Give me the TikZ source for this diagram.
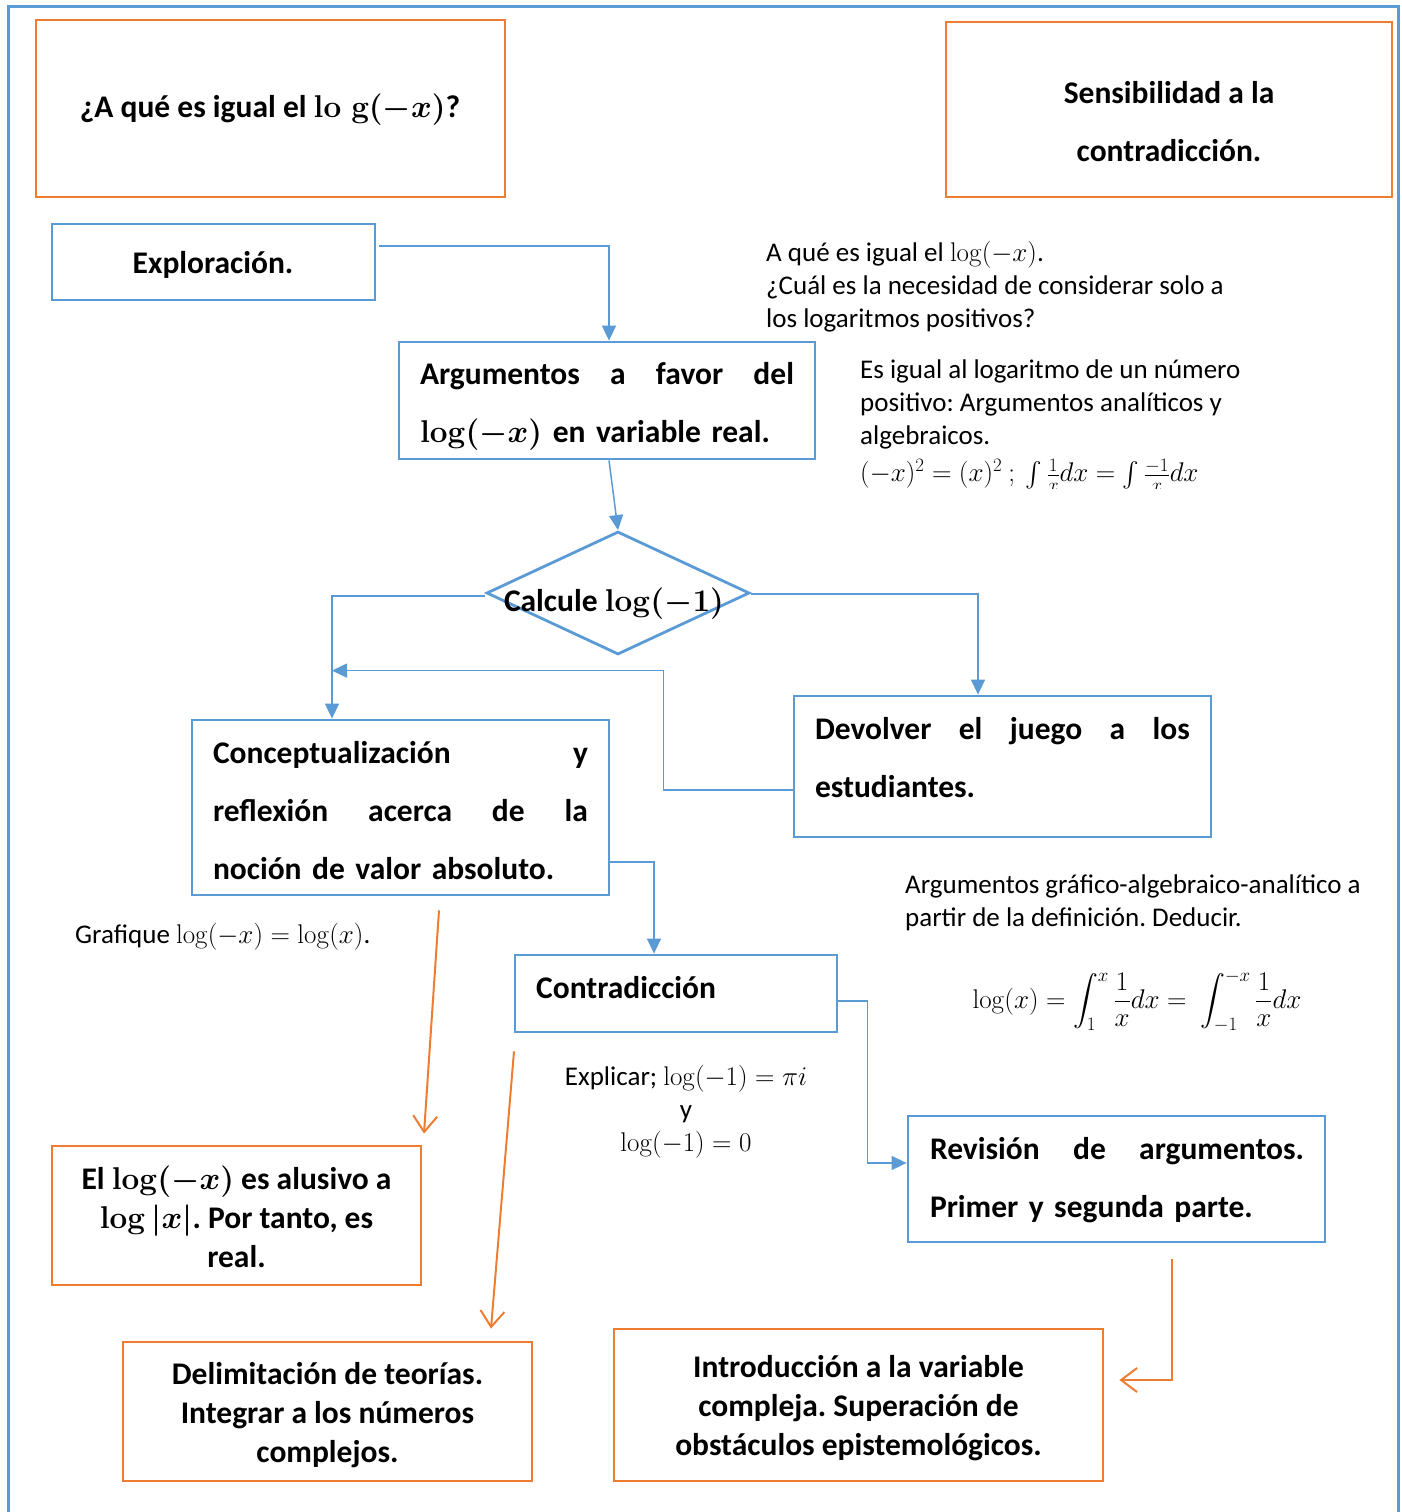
\RequirePackage{fix-cm}
\documentclass[tikz,border=0pt]{standalone}
\usepackage{amsmath}
\usepackage[no-math]{fontspec}
\setmainfont{Carlito}
\frenchspacing
\usetikzlibrary{arrows.meta,shapes.geometric,calc}
\definecolor{bl}{HTML}{5B9BD5}
\definecolor{org}{HTML}{ED7D31}
\tikzset{
  bbox/.style={draw=bl,line width=2.8pt,inner sep=0pt},
  obox/.style={draw=org,line width=2.8pt,inner sep=0pt},
  barr/.style={draw=bl,line width=1.5pt,-{Triangle[length=15pt,width=14pt]}},
  oarr/.style={draw=org,line width=2pt,-{Straight Barb[length=16pt,width=24pt]}},
  btxt/.style={font=\bfseries\fontsize{31.5}{58}\selectfont\boldmath,inner sep=0pt},
  btxs/.style={font=\bfseries\fontsize{31.5}{39}\selectfont\boldmath,inner sep=0pt,align=center},
  rtxt/.style={font=\fontsize{27}{33}\selectfont,inner sep=0pt},
}
\begin{document}
\begin{tikzpicture}[x=1pt,y=-1pt]
\useasboundingbox (0,0) rectangle (1402,1512);
% outer frame
\draw[bl,line width=3pt] (8,1530) -- (8,7) -- (1398,7) -- (1398,1530);

% top orange boxes
\node[obox,minimum width=469pt,minimum height=177pt] (q) at (270.5,108.5) {};
\node[btxt] (qt) at (270,110) {¿A qué es igual el $\mathrm{lo}\;\mathrm{g}(-x)$?};
\node[obox,minimum width=446pt,minimum height=175pt] (sens) at (1169,109.5) {};
\node[btxt,align=center] (senst) at (1169,122) {Sensibilidad a la\\ contradicción.};

% blue boxes
\node[bbox,minimum width=323pt,minimum height=76pt] (expl) at (213.5,262) {};
\node[btxt] (explt) at (213,265) {Exploración.};

\node[bbox,minimum width=416pt,minimum height=117pt] (arg) at (607,400.5) {};
\node[btxt,text width=374pt,align=left] (argt) at (607,406)
  {Argumentos\hfill a\hfill favor\hfill del\\ $\log(-x)$ en variable real.};

\node[bbox,diamond,minimum width=263pt,minimum height=123pt] (calc) at (618,593) {};
\node[btxt] (calct) at (614,604) {Calcule $\log(-1)$};

\node[bbox,minimum width=417pt,minimum height=175pt] (concept) at (400.5,807.5) {};
\node[btxt,text width=375pt,align=left] (conceptt) at (400.5,811)
  {Conceptualización\hfill y\\ reflexión\hfill acerca\hfill de\hfill la\\ noción de valor absoluto.};

\node[bbox,minimum width=417pt,minimum height=141pt] (devol) at (1002.5,766.5) {};
\node[btxt,text width=375pt,align=left] (devolt) at (1002.5,757.5)
  {Devolver\hfill el\hfill juego\hfill a\hfill los\\ estudiantes.};

\node[bbox,minimum width=322pt,minimum height=77pt] (contr) at (676,993.5) {};
\node[btxt,anchor=west] (contrt) at (536,988) {Contradicción};

\node[bbox,minimum width=417pt,minimum height=126pt] (rev) at (1116.5,1179) {};
\node[btxt,text width=374pt,align=left] (revt) at (1117,1180)
  {Revisión\hfill de\hfill argumentos.\\ Primer y segunda parte.};

% bottom orange boxes
\node[obox,minimum width=369pt,minimum height=139pt] (elog) at (236.5,1215.5) {};
\node[btxs] (elogt) at (236.5,1217) {El $\log(-x)$ es alusivo a\\ $\log|x|$. Por tanto, es\\ real.};
\node[obox,minimum width=409pt,minimum height=139pt] (delim) at (327.5,1411.5) {};
\node[btxs] (delimt) at (327.5,1415) {Delimitación de teorías.\\ Integrar a los números\\ complejos.};
\node[obox,minimum width=489pt,minimum height=152pt] (intro) at (858.5,1405) {};
\node[btxs] (introt) at (858.5,1408) {Introducción a la variable\\ compleja. Superación de\\ obstáculos epistemológicos.};

% free texts
\node[rtxt,align=left,anchor=north west] (n1) at (766,241)
  {A qué es igual el $\log(-x)$.\\ ¿Cuál es la necesidad de considerar solo a\\ los logaritmos positivos?};
\node[rtxt,align=left,anchor=north west] (n2) at (860,360)
  {Es igual al logaritmo de un número\\ positivo: Argumentos analíticos y\\ algebraicos.};
\begin{scope}
\clip (850,450) rectangle (1250,488);
\node[rtxt,anchor=west] (n2m) at (860,475)
  {$(-x)^2=(x)^2\ ;\ \int\frac{1}{x}dx=\int\frac{-1}{x}dx$};
\end{scope}
\node[rtxt,anchor=west] (n3) at (75,937) {Grafique $\log(-x)=\log(x)$.};
\node[rtxt,align=left,anchor=north west] (n4) at (905,875)
  {Argumentos gráfico-algebraico-analítico a\\ partir de la definición. Deducir.};
\node[rtxt] (n5) at (1137,1001)
  {$\displaystyle\log(x)=\int_1^x\frac{1}{x}dx=\ \int_{-1}^{-x}\frac{1}{x}dx$};
\node[rtxt,align=center] (n6) at (686,1112)
  {Explicar; $\log(-1)=\pi i$\\ y\\ $\log(-1)=0$};

% blue connectors
\draw[barr] ([shift={(3,-16)}]expl.east) -| ([shift={(2,0)}]arg.north);
\draw[barr] ([shift={(2,0)}]arg.south) -- (calc.north);
\draw[barr] ([shift={(0,3)}]calc.west) -| ([shift={(-68.5,0)}]concept.north);
\draw[barr] ([shift={(0,1)}]calc.east) -| ([shift={(-24.5,0)}]devol.north);
\coordinate (merge) at ([shift={(-68.5,-48)}]concept.north);
\draw[barr] ([shift={(0,23.5)}]devol.west) -- ++(-129,0) |- (merge);
\draw[barr] ([shift={(0,54.5)}]concept.east) -| ([shift={(-22,0)}]contr.north);
\draw[barr] ([shift={(0,7.5)}]contr.east) -- ++(29,0) |- ([shift={(0,-16)}]rev.west);

% orange connectors
\draw[oarr] ([shift={(38.5,14)}]concept.south) -- ([shift={(187.5,-11)}]elog.north);
\draw[oarr] ([shift={(-162,18)}]contr.south) -- ([shift={(163.5,-12)}]delim.north);
\draw[oarr] ([shift={(55.5,16)}]rev.south) |- ([shift={(15,-25)}]intro.east);
\end{tikzpicture}
\end{document}
